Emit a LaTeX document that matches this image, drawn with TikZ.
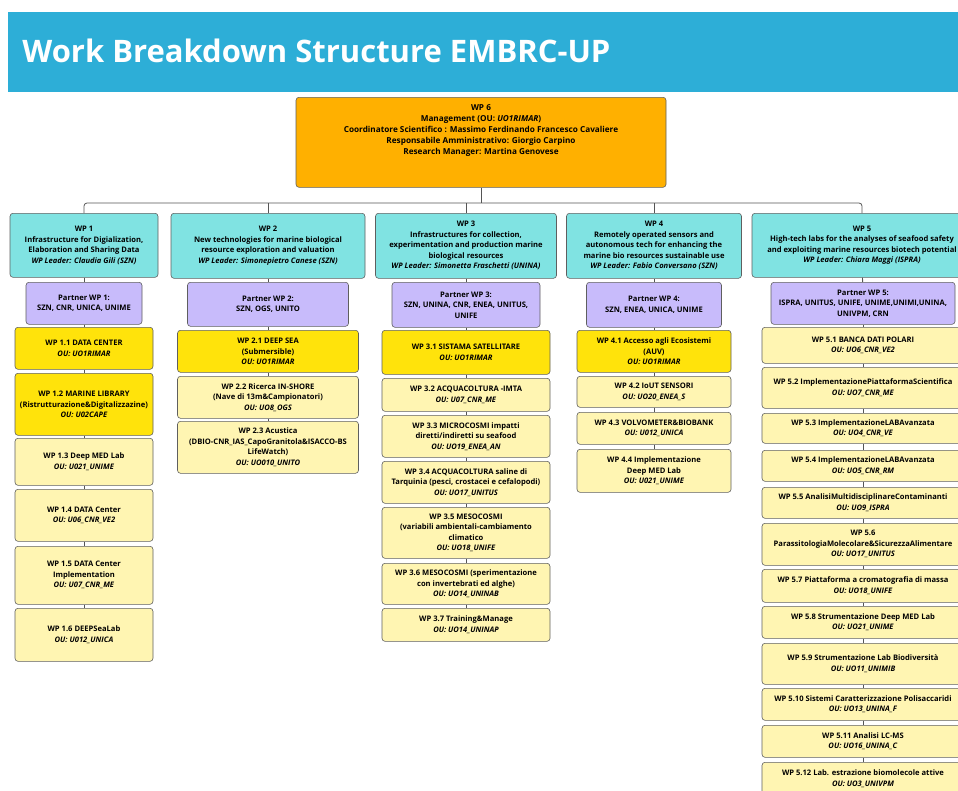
\documentclass[tikz,border=0pt]{standalone}
\usepackage{fontspec}
\setmainfont{Open Sans}
\definecolor{banner}{HTML}{2DAED7}
\definecolor{mgmt}{HTML}{FFB000}
\definecolor{wpcyan}{HTML}{80E3E2}
\definecolor{partnerlila}{HTML}{C8BBFB}
\definecolor{keyyellow}{HTML}{FFE30B}
\definecolor{taskyellow}{HTML}{FFF5B2}
\definecolor{boxline}{HTML}{5F5F5F}
\definecolor{linkgray}{HTML}{555555}

\begin{document}
\begin{tikzpicture}[x=1pt,y=-1pt,rounded corners=3pt,thick,
  box/.style={draw=boxline,line width=.6pt,align=center,anchor=north,inner sep=2pt,
    font=\fontsize{7.6}{10.5}\selectfont\bfseries},
  wp/.style={box,fill=wpcyan},
  partner/.style={box,fill=partnerlila},
  key/.style={box,fill=keyyellow},
  task/.style={box,fill=taskyellow},
  link/.style={draw=linkgray,line width=.8pt}]
  \useasboundingbox (0,0) rectangle (958,790);
  \fill[white,rounded corners=0pt] (0,0) rectangle (958,790);
  \clip[rounded corners=0pt] (0,0) rectangle (958,790);

  % title banner
  \fill[banner,rounded corners=0pt] (8,12) rectangle (958,92);
  \node[anchor=west,inner sep=0pt,text=white,font=\fontsize{31}{37}\selectfont\bfseries]
    (title) at (22,51) {Work Breakdown Structure EMBRC-UP};

  % management
  \node[box,fill=mgmt,minimum width=370pt,minimum height=90pt] (wp6) at (481,97) {};
  \node[anchor=north,inner sep=0pt,align=center,font=\fontsize{8.2}{11}\selectfont\bfseries]
    (wp6text) at ([yshift=-7pt]wp6.north)
    {WP 6\\Management (OU: \textit{UO1RIMAR})\\
     Coordinatore Scientifico : Massimo Ferdinando Francesco Cavaliere\\
     Responsabile Amministrativo: Giorgio Carpino\\
     Research Manager: Martina Genovese};

  % work packages
  \node[wp,minimum width=148pt,minimum height=64pt] (wp1) at (84,213)
    {WP 1\\Infrastructure for Digialization,\\Elaboration and Sharing Data\\\textit{WP Leader: Claudia Gili (SZN)}};
  \node[wp,minimum width=194pt,minimum height=65pt] (wp2) at (268,213)
    {WP 2\\New technologies for marine biological\\resource exploration and valuation\\\textit{WP Leader: Simonepietro Canese (SZN)}};
  \node[wp,minimum width=181pt,minimum height=65pt] (wp3) at (466,213)
    {WP 3\\Infrastructures for collection,\\experimentation and production marine\\biological resources\\\textit{WP Leader: Simonetta Fraschetti (UNINA)}};
  \node[wp,minimum width=175pt,minimum height=65pt] (wp4) at (654,213)
    {WP 4\\Remotely operated sensors and\\autonomous tech for enhancing the\\marine bio resources sustainable use\\\textit{WP Leader: Fabio Conversano (SZN)}};
  \node[wp,minimum width=220pt,minimum height=64pt] (wp5) at (862,213)
    {WP 5\\High-tech labs for the analyses of seafood safety\\and exploiting marine resources biotech potential\\\textit{WP Leader: Chiara Maggi (ISPRA)}};

  % tree from WP 6
  \coordinate (bus) at (481,203);
  \draw[link] (wp6) -- (bus);
  \draw[link] (wp1.north) |- (bus) -| (wp5.north);
  \foreach \i in {2,3,4}
    \draw[link] (wp\i) -- (wp\i |- bus);

  % partners
  \node[partner,minimum width=116pt,minimum height=42pt] (pa1) at (84,282) {Partner WP 1:\\SZN, CNR, UNICA, UNIME};
  \node[partner,minimum width=161pt,minimum height=44pt] (pa2) at (268,282) {Partner WP 2:\\SZN, OGS, UNITO};
  \node[partner,minimum width=148pt,minimum height=45pt] (pa3) at (466,282) {Partner WP 3:\\SZN, UNINA, CNR, ENEA, UNITUS,\\UNIFE};
  \node[partner,minimum width=135pt,minimum height=45pt] (pa4) at (654,282) {Partner WP 4:\\SZN, ENEA, UNICA, UNIME};
  \node[partner,minimum width=184pt,minimum height=42pt] (pa5) at (863,282) {Partner WP 5:\\ISPRA, UNITUS, UNIFE, UNIME,UNIMI,UNINA,\\UNIVPM, CRN};
  \foreach \i in {1,...,5}
    \draw[link] (wp\i) -- (pa\i);

  % column WP 1
  \foreach \n/\ty/\hh/\sty/\txt [remember=\n as \prev (initially pa1)] in {
    t1-1/327/42/key/{WP 1.1 DATA CENTER\\\textit{OU: UO1RIMAR}},
    t1-2/373/62/key/{WP 1.2 MARINE LIBRARY\\(Ristrutturazione\&Digitalizzazine)\\\textit{OU: U02CAPE}},
    t1-3/438/47/task/{WP 1.3 Deep MED Lab\\\textit{OU: U021\_UNIME}},
    t1-4/489/52/task/{WP 1.4 DATA Center\\\textit{OU: U06\_CNR\_VE2}},
    t1-5/546/58/task/{WP 1.5 DATA Center\\Implementation\\\textit{OU: U07\_CNR\_ME}},
    t1-6/608/53/task/{WP 1.6 DEEPSeaLab\\\textit{OU: U012\_UNICA}}}
  {
    \node[\sty,minimum width=138pt,minimum height=\hh pt] (\n) at (84,\ty) {\txt};
    \draw[link] (\prev) -- (\n);
  }

  % column WP 2
  \foreach \n/\ty/\hh/\sty/\txt [remember=\n as \prev (initially pa2)] in {
    t2-1/330/42/key/{WP 2.1 DEEP SEA\\(Submersible)\\\textit{OU: UO1RIMAR}},
    t2-2/376/42/task/{WP 2.2 Ricerca IN-SHORE\\(Nave di 13m\&Campionatori)\\\textit{OU: UO8\_OGS}},
    t2-3/421/52/task/{WP 2.3 Acustica\\(DBIO-CNR\_IAS\_CapoGranitola\&ISACCO-BS\\LifeWatch)\\\textit{OU: UO010\_UNITO}}}
  {
    \node[\sty,minimum width=181pt,minimum height=\hh pt] (\n) at (268,\ty) {\txt};
    \draw[link] (\prev) -- (\n);
  }

  % column WP 3
  \foreach \n/\ty/\hh/\sty/\txt [remember=\n as \prev (initially pa3)] in {
    t3-1/330/44/key/{WP 3.1 SISTAMA SATELLITARE\\\textit{OU: UO1RIMAR}},
    t3-2/378/33/task/{WP 3.2 ACQUACOLTURA -IMTA\\\textit{OU: U07\_CNR\_ME}},
    t3-3/415/42/task/{WP 3.3 MICROCOSMI impatti\\diretti/indiretti su seafood\\\textit{OU: UO19\_ENEA\_AN}},
    t3-4/461/42/task/{WP 3.4 ACQUACOLTURA saline di\\Tarquinia (pesci, crostacei e cefalopodi)\\\textit{OU: UO17\_UNITUS}},
    t3-5/507/51/task/{WP 3.5 MESOCOSMI\\(variabili ambientali-cambiamento\\climatico\\\textit{OU: UO18\_UNIFE}},
    t3-6/563/41/task/{WP 3.6 MESOCOSMI (sperimentazione\\con invertebrati ed alghe)\\\textit{OU: UO14\_UNINAB}},
    t3-7/608/33/task/{WP 3.7 Training\&Manage\\\textit{OU: UO14\_UNINAP}}}
  {
    \node[\sty,minimum width=168pt,minimum height=\hh pt] (\n) at (466,\ty) {\txt};
    \draw[link] (\prev) -- (\n);
  }

  % column WP 4
  \foreach \n/\ty/\hh/\sty/\txt [remember=\n as \prev (initially pa4)] in {
    t4-1/330/42/key/{WP 4.1 Accesso agli Ecosistemi\\(AUV)\\\textit{OU: UO1RIMAR}},
    t4-2/376/31/task/{WP 4.2 IoUT SENSORI\\\textit{OU: UO20\_ENEA\_S}},
    t4-3/412/32/task/{WP 4.3 VOLVOMETER\&BIOBANK\\\textit{OU: U012\_UNICA}},
    t4-4/449/43/task/{WP 4.4 Implementazione\\Deep MED Lab\\\textit{OU: U021\_UNIME}}}
  {
    \node[\sty,minimum width=154pt,minimum height=\hh pt] (\n) at (654,\ty) {\txt};
    \draw[link] (\prev) -- (\n);
  }

  % column WP 5
  \foreach \n/\ty/\hh/\sty/\txt [remember=\n as \prev (initially pa5)] in {
    t5-1/327/36/task/{WP 5.1 BANCA DATI POLARI\\\textit{OU: UO6\_CNR\_VE2}},
    t5-2/367/41/task/{WP 5.2 ImplementazionePiattaformaScientifica\\\textit{OU: UO7\_CNR\_ME}},
    t5-3/413/30/task/{WP 5.3 ImplementazioneLABAvanzata\\\textit{OU: UO4\_CNR\_VE}},
    t5-4/450/31/task/{WP 5.4 ImplementazioneLABAvanzata\\\textit{OU: UO5\_CNR\_RM}},
    t5-5/487/31/task/{WP 5.5 AnalisiMultidisciplinareContaminanti\\\textit{OU: UO9\_ISPRA}},
    t5-6/523/42/task/{WP 5.6\\ParassitologiaMolecolare\&SicurezzaAlimentare\\\textit{OU: UO17\_UNITUS}},
    t5-7/569/33/task/{WP 5.7 Piattaforma a cromatografia di massa\\\textit{OU: UO18\_UNIFE}},
    t5-8/606/32/task/{WP 5.8 Strumentazione Deep MED Lab\\\textit{OU: UO21\_UNIME}},
    t5-9/643/41/task/{WP 5.9 Strumentazione Lab Biodiversità\\\textit{OU: UO11\_UNIMIB}},
    t5-10/688/32/task/{WP 5.10 Sistemi Caratterizzazione Polisaccaridi\\\textit{OU: UO13\_UNINA\_F}},
    t5-11/725/32/task/{WP 5.11 Analisi LC-MS\\\textit{OU: UO16\_UNINA\_C}},
    t5-12/762/33/task/{WP 5.12 Lab. estrazione biomolecole attive\\\textit{OU: UO3\_UNIVPM}}}
  {
    \node[\sty,minimum width=202pt,minimum height=\hh pt] (\n) at (863,\ty) {\txt};
    \draw[link] (\prev) -- (\n);
  }
\end{tikzpicture}
\end{document}
